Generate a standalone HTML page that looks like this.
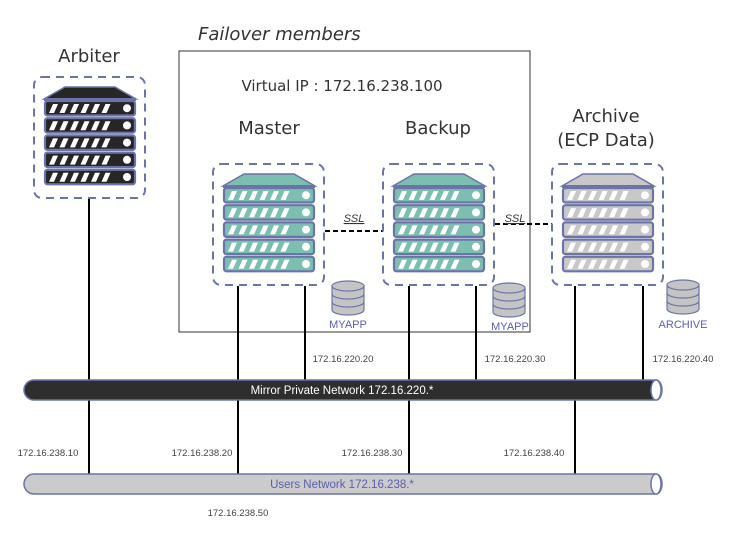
<!DOCTYPE html>
<html><head><meta charset="utf-8"><style>
html,body{margin:0;padding:0;background:#fff;width:742px;height:535px;overflow:hidden}
svg{display:block}
text{font-family:"Liberation Sans",sans-serif}
.t{font-family:"DejaVu Sans","Liberation Sans",sans-serif;fill:#333}
.ip{font-size:9.5px;fill:#444}
</style></head><body>
<svg id="s" width="742" height="535" viewBox="0 0 742 535" xmlns="http://www.w3.org/2000/svg">
<rect x="179" y="51" width="351" height="281" fill="none" stroke="#333" stroke-width="1"/>
<text class="t" x="198" y="40" font-size="18" font-style="italic" fill="#444">Failover members</text>
<text class="t" x="342" y="91" font-size="15" text-anchor="middle" fill="#555">Virtual IP : 172.16.238.100</text>
<text class="t" x="269" y="134" font-size="18" text-anchor="middle">Master</text>
<text class="t" x="438" y="134" font-size="18" text-anchor="middle">Backup</text>
<text class="t" x="606" y="122" font-size="18" text-anchor="middle">Archive</text>
<text class="t" x="606" y="146" font-size="18" text-anchor="middle">(ECP Data)</text>
<text class="t" x="89" y="62" font-size="18" text-anchor="middle">Arbiter</text>
<g stroke="#000" stroke-width="2">
<line x1="89" y1="197" x2="89" y2="474"/>
<line x1="238" y1="286" x2="238" y2="474"/>
<line x1="305" y1="286" x2="305" y2="380"/>
<line x1="409" y1="286" x2="409" y2="474"/>
<line x1="476" y1="286" x2="476" y2="380"/>
<line x1="575" y1="286" x2="575" y2="474"/>
<line x1="643" y1="286" x2="643" y2="380"/>
</g>
<g stroke="#000" stroke-width="2" stroke-dasharray="5,3">
<line x1="325" y1="231" x2="383" y2="231"/>
<line x1="495" y1="224" x2="552" y2="224"/>
</g>
<text x="354" y="222" font-size="11" font-style="italic" text-anchor="middle" fill="#333" text-decoration="underline">SSL</text>
<text x="515" y="222" font-size="11" font-style="italic" text-anchor="middle" fill="#333" text-decoration="underline">SSL</text>
<g id="srv"></g>
<text x="348" y="328" font-size="11" text-anchor="middle" fill="#5a5fb0">MYAPP</text>
<text x="510" y="330" font-size="11" text-anchor="middle" fill="#5a5fb0">MYAPP</text>
<text x="683" y="328" font-size="11" text-anchor="middle" fill="#5a5fb0">ARCHIVE</text>
<text class="ip" x="343" y="362" text-anchor="middle">172.16.220.20</text>
<text class="ip" x="515" y="362" text-anchor="middle">172.16.220.30</text>
<text class="ip" x="683" y="362" text-anchor="middle">172.16.220.40</text>
<path d="M34,380 H656 A6,10 0 0 1 656,400 H34 A10,10 0 0 1 34,380 Z" fill="#2e2e2e" stroke="#6b74a8" stroke-width="1.5"/>
<ellipse cx="656" cy="390" rx="5" ry="10" fill="#fff" stroke="#6b74a8" stroke-width="1.5"/>
<text x="342" y="394" font-size="11.5" text-anchor="middle" fill="#fff">Mirror Private Network 172.16.220.*</text>
<text class="ip" x="48" y="456" text-anchor="middle">172.16.238.10</text>
<text class="ip" x="202" y="456" text-anchor="middle">172.16.238.20</text>
<text class="ip" x="372" y="456" text-anchor="middle">172.16.238.30</text>
<text class="ip" x="534" y="456" text-anchor="middle">172.16.238.40</text>
<path d="M34,474 H656 A6,10 0 0 1 656,494 H34 A10,10 0 0 1 34,474 Z" fill="#cbcbcb" stroke="#6b74a8" stroke-width="1.5"/>
<ellipse cx="656" cy="484" rx="5" ry="10" fill="#fff" stroke="#6b74a8" stroke-width="1.5"/>
<text x="342" y="488" font-size="11.5" text-anchor="middle" fill="#5a5fb0">Users Network 172.16.238.*</text>
<text class="ip" x="238" y="516" text-anchor="middle">172.16.238.50</text>
</svg>
<script>
var g=document.getElementById('srv'),h='';
function server(bx,by,fill){
 h+='<rect x="'+bx+'" y="'+by+'" width="111" height="121" rx="8" fill="none" stroke="#6b74a8" stroke-width="2" stroke-dasharray="8,6"/>';
 h+='<path d="M'+(bx+31)+','+(by+10)+' H'+(bx+81)+' L'+(bx+102)+','+(by+22)+' H'+(bx+10)+' Z" fill="'+fill+'" stroke="#6b74a8" stroke-width="1.5"/>';
 h+='<rect x="'+(bx+10)+'" y="'+(by+21)+'" width="92" height="3" fill="#6b74a8"/>';
 for(var i=0;i<5;i++){var y=by+24+i*17.2;
  h+='<rect x="'+(bx+11)+'" y="'+y+'" width="90" height="14.5" rx="2.5" fill="'+fill+'" stroke="#6b74a8" stroke-width="2.2"/>';
  for(var k=0;k<6;k++){var x=bx+15+k*10.5;h+='<path d="M'+(x+4)+','+(y+3)+' h5 l-4,9 h-5 Z" fill="#fff"/>';}
  h+='<circle cx="'+(bx+93)+'" cy="'+(y+7.2)+'" r="4" fill="#fff"/>';
 }
}
function db(cx,cy){
 h+='<g fill="#c4c4c4" stroke="#6b74a8" stroke-width="1.2">';
 h+='<path d="M'+(cx-16)+','+cy+' v24 a16,5 0 0 0 32,0 v-24"/>';
 h+='<ellipse cx="'+cx+'" cy="'+cy+'" rx="16" ry="5"/>';
 h+='<path d="M'+(cx-16)+','+(cy+8)+' a16,5 0 0 0 32,0 M'+(cx-16)+','+(cy+16)+' a16,5 0 0 0 32,0" fill="none"/></g>';
}
server(34,77,'#262626');
server(213,164,'#7cbfb0');
server(383,164,'#7cbfb0');
server(552,164,'#c8c8c8');
db(348,286);db(509,288);db(683,285);
g.innerHTML=h;
</script>
</body></html>
